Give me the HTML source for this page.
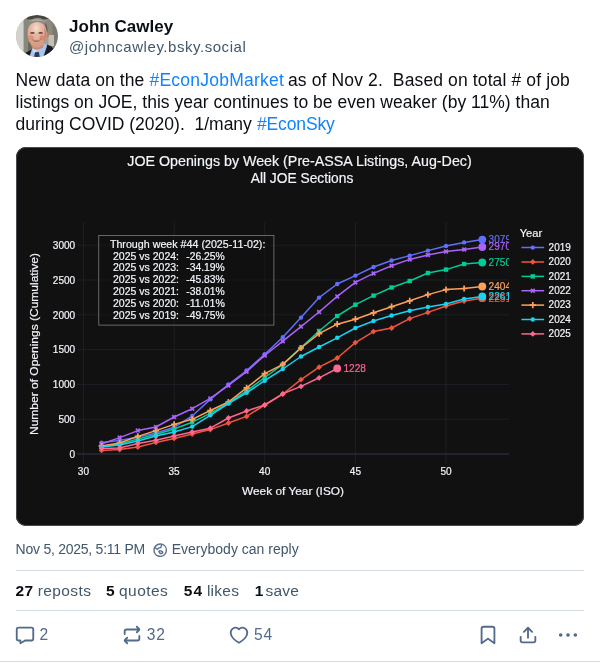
<!DOCTYPE html>
<html>
<head>
<meta charset="utf-8">
<title>Post</title>
<style>
html,body{margin:0;padding:0;background:#fff;}
body{width:600px;height:665px;overflow:hidden;position:relative;font-family:"Liberation Sans",sans-serif;color:#0b0f14;}
.abs{position:absolute;white-space:pre;}
.avatar{position:absolute;left:16px;top:15px;width:42px;height:42px;border-radius:50%;overflow:hidden;background:#b9b7ae;}
.name{left:69px;top:16px;font-size:17px;font-weight:bold;line-height:22px;color:#0b0f14;letter-spacing:0.03px;}
.handle{left:69px;top:37px;font-size:15px;line-height:20px;color:#42576c;letter-spacing:0.545px;}
.txt{font-size:17.5px;line-height:22px;color:#0b0f14;}
.lnk{color:#1083fe;}
.chart{position:absolute;left:16px;top:147px;width:568px;height:378.7px;border-radius:10px;background:#111111;overflow:hidden;}
.chart::after{content:"";position:absolute;left:0;top:0;right:0;bottom:0;border-radius:10px;border:1px solid rgba(190,200,215,0.32);box-sizing:border-box;}
.meta{top:540px;font-size:14px;line-height:18px;color:#42576c;}
.hr{position:absolute;left:16px;width:568px;height:1px;background:#d4dbe2;}
.stats{top:581px;font-size:15.5px;line-height:20px;color:#42576c;}
.sb{color:#0b0f14;font-weight:bold;}
.cnt{top:625px;font-size:15.6px;line-height:20px;color:#526a8e;}
.ico{position:absolute;width:22px;height:22px;fill:#526a8e;}
</style>
</head>
<body>
<div id="wrap" style="position:absolute;left:0;top:0;width:600px;height:665px;will-change:transform;">
<div class="avatar"><svg width="42" height="42" viewBox="0 0 42 42" style="display:block">
<defs><filter id="bl" x="-10%" y="-10%" width="120%" height="120%"><feGaussianBlur stdDeviation="0.7"/></filter>
<radialGradient id="fg" cx="0.45" cy="0.24" r="0.62"><stop offset="0" stop-color="#f5dccf"/><stop offset="0.45" stop-color="#e8b8a2"/><stop offset="1" stop-color="#d89c84"/></radialGradient>
<clipPath id="ac"><circle cx="21" cy="21" r="21"/></clipPath></defs>
<g clip-path="url(#ac)"><g filter="url(#bl)">
<rect x="-3" y="-3" width="48" height="48" fill="#a3a194"/>
<rect x="-3" y="-3" width="11" height="48" fill="#d3d3cd"/>
<rect x="7.6" y="-3" width="5.6" height="48" fill="#8a887c"/>
<rect x="11" y="-3" width="34" height="7.5" fill="#45453e"/>
<rect x="30" y="4" width="15" height="17" fill="#8c8a7d"/>
<rect x="36.5" y="5" width="9" height="30" fill="#7b796e"/>
<rect x="32.5" y="20" width="5.5" height="11" fill="#c2c0b4"/>
<rect x="12" y="27" width="6" height="10" fill="#6c6a5e"/>
<path d="M8 43L10 37.5L16.5 34L21 40L30.5 29.5L35 31L40 36.5L43 46L5 46Z" fill="#161c29"/>
<path d="M15.5 35.5L17 31L30.5 28.8L31 31L27 43L13 43Z" fill="#a9c6ea"/>
<path d="M16.5 33.5L21 36L18 38.5Z" fill="#d4e2f4"/>
<path d="M19 37.2L22.8 37L24 43L17.8 43Z" fill="#2a3a5c"/>
<path d="M10.8 17C10 6 17 2.6 21.5 2.8C28 2.8 32.8 8 31.4 19L29.8 12C27 7 16 6.5 12.6 11.5Z" fill="#8b8886"/>
<path d="M14 6.6C17 3.8 25 3.4 28.5 6.8C24 5.6 18 5.6 14 6.6Z" fill="#b0adaa"/>
<path d="M29 7.5C31.8 10.5 31.8 15 31.2 19.5L29.4 13.5Z" fill="#605d5a"/>
<ellipse cx="31.4" cy="19.8" rx="1.5" ry="2.8" fill="#bf806c"/>
<path d="M11.6 18C11.4 3.4 30.8 3.4 30.8 18C31 25 27 33 21 33.2C15 33 11.8 25 11.6 18Z" fill="url(#fg)"/>
<path d="M28.2 12C30.6 16 30.6 24 27.6 28.5C29 23 29 17 28.2 12Z" fill="#b97c68"/>
<ellipse cx="15" cy="22.8" rx="2.6" ry="2.6" fill="#dc927c"/>
<ellipse cx="26" cy="22.8" rx="2.4" ry="2.6" fill="#d58872"/>
<ellipse cx="20.6" cy="20.6" rx="1.8" ry="2.6" fill="#e9b39c"/>
<ellipse cx="16.4" cy="17.9" rx="2.3" ry="0.85" fill="#5e423c"/>
<ellipse cx="24.6" cy="17.9" rx="2.3" ry="0.85" fill="#5e423c"/>
<path d="M16 24.4Q20.4 29.4 25.2 24.4Q20.4 25.8 16 24.4Z" fill="#8a4a42"/>
<path d="M17.4 25Q20.4 26.2 24 25L23.4 25.8Q20.4 26.9 18 25.8Z" fill="#e2c4ba"/>
<path d="M15 29.8Q21 35.8 27.6 29.2L27 32.8Q21 36.2 16.3 33.2Z" fill="#c48c76"/>
</g></g></svg></div>
<div class="abs name" id="name">John Cawley</div>
<div class="abs handle" id="handle">@johncawley.bsky.social</div>

<div class="abs txt" id="l1a" style="top:69px;left:15.5px;letter-spacing:0.1px">New data on the</div>
<div class="abs txt lnk" id="l1b" style="top:69px;left:149.5px;letter-spacing:0.231px">#EconJobMarket</div>
<div class="abs txt" id="l1c" style="top:69px;left:288px;letter-spacing:0.125px">as of Nov 2.  Based on total # of job</div>
<div class="abs txt" id="l2" style="top:91px;left:15.5px;letter-spacing:0.022px">listings on JOE, this year continues to be even weaker (by 11%) than</div>
<div class="abs txt" id="l3a" style="top:113px;left:15.5px;">during COVID (2020).  1/many</div>
<div class="abs txt lnk" id="l3b" style="top:113px;left:257px;letter-spacing:-0.143px">#EconSky</div>

<div class="chart" id="chart"><svg width="568" height="379" viewBox="0 0 568 379" font-family="Liberation Sans, sans-serif" style="display:block">
<rect width="568" height="379" fill="#111111"/>
<path d="M67.4 75V317 M158.1 75V317 M248.7 75V317 M339.4 75V317 M430.0 75V317 M61 272.2H493 M61 237.4H493 M61 202.6H493 M61 167.8H493 M61 133.0H493 M61 98.2H493" stroke="#2a2f3c" stroke-opacity="0.62" stroke-width="0.75" fill="none"/>
<path d="M61 307H493" stroke="#2c3040" stroke-opacity="0.85" stroke-width="1.3" fill="none"/>
<clipPath id="pc"><rect x="61" y="75" width="432" height="242"/></clipPath>
<g clip-path="url(#pc)">
<polyline points="85.5,295.6 103.7,293.5 121.8,290.0 139.9,286.0 158.1,280.3 176.2,269.0 194.3,252.4 212.4,237.5 230.6,223.5 248.7,207.3 266.8,190.3 285.0,170.6 303.1,150.6 321.2,137.0 339.4,128.6 357.5,120.0 375.6,113.5 393.7,108.6 411.9,103.6 430.0,99.0 448.1,95.4 466.3,92.6" fill="none" stroke="#636efa" stroke-width="1.5" stroke-linejoin="round"/>
<circle cx="85.5" cy="295.6" r="2.2" fill="#636efa"/>
<circle cx="103.7" cy="293.5" r="2.2" fill="#636efa"/>
<circle cx="121.8" cy="290.0" r="2.2" fill="#636efa"/>
<circle cx="139.9" cy="286.0" r="2.2" fill="#636efa"/>
<circle cx="158.1" cy="280.3" r="2.2" fill="#636efa"/>
<circle cx="176.2" cy="269.0" r="2.2" fill="#636efa"/>
<circle cx="194.3" cy="252.4" r="2.2" fill="#636efa"/>
<circle cx="212.4" cy="237.5" r="2.2" fill="#636efa"/>
<circle cx="230.6" cy="223.5" r="2.2" fill="#636efa"/>
<circle cx="248.7" cy="207.3" r="2.2" fill="#636efa"/>
<circle cx="266.8" cy="190.3" r="2.2" fill="#636efa"/>
<circle cx="285.0" cy="170.6" r="2.2" fill="#636efa"/>
<circle cx="303.1" cy="150.6" r="2.2" fill="#636efa"/>
<circle cx="321.2" cy="137.0" r="2.2" fill="#636efa"/>
<circle cx="339.4" cy="128.6" r="2.2" fill="#636efa"/>
<circle cx="357.5" cy="120.0" r="2.2" fill="#636efa"/>
<circle cx="375.6" cy="113.5" r="2.2" fill="#636efa"/>
<circle cx="393.7" cy="108.6" r="2.2" fill="#636efa"/>
<circle cx="411.9" cy="103.6" r="2.2" fill="#636efa"/>
<circle cx="430.0" cy="99.0" r="2.2" fill="#636efa"/>
<circle cx="448.1" cy="95.4" r="2.2" fill="#636efa"/>
<circle cx="466.3" cy="92.6" r="2.2" fill="#636efa"/>
<polyline points="85.5,303.4 103.7,302.6 121.8,300.0 139.9,295.4 158.1,291.4 176.2,287.0 194.3,282.6 212.4,276.0 230.6,269.4 248.7,258.0 266.8,247.0 285.0,232.6 303.1,220.2 321.2,211.0 339.4,195.6 357.5,184.6 375.6,181.0 393.7,171.6 411.9,165.4 430.0,159.0 448.1,154.0 466.3,151.2" fill="none" stroke="#ef553b" stroke-width="1.5" stroke-linejoin="round"/>
<path d="M85.5 300.5L88.4 303.4L85.5 306.3L82.7 303.4Z" fill="#ef553b"/>
<path d="M103.7 299.7L106.5 302.6L103.7 305.5L100.8 302.6Z" fill="#ef553b"/>
<path d="M121.8 297.1L124.7 300.0L121.8 302.9L118.9 300.0Z" fill="#ef553b"/>
<path d="M139.9 292.5L142.8 295.4L139.9 298.3L137.1 295.4Z" fill="#ef553b"/>
<path d="M158.1 288.5L160.9 291.4L158.1 294.3L155.2 291.4Z" fill="#ef553b"/>
<path d="M176.2 284.1L179.0 287.0L176.2 289.9L173.3 287.0Z" fill="#ef553b"/>
<path d="M194.3 279.7L197.2 282.6L194.3 285.5L191.4 282.6Z" fill="#ef553b"/>
<path d="M212.4 273.1L215.3 276.0L212.4 278.9L209.6 276.0Z" fill="#ef553b"/>
<path d="M230.6 266.5L233.4 269.4L230.6 272.3L227.7 269.4Z" fill="#ef553b"/>
<path d="M248.7 255.1L251.6 258.0L248.7 260.9L245.8 258.0Z" fill="#ef553b"/>
<path d="M266.8 244.1L269.7 247.0L266.8 249.9L264.0 247.0Z" fill="#ef553b"/>
<path d="M285.0 229.7L287.8 232.6L285.0 235.5L282.1 232.6Z" fill="#ef553b"/>
<path d="M303.1 217.3L306.0 220.2L303.1 223.1L300.2 220.2Z" fill="#ef553b"/>
<path d="M321.2 208.1L324.1 211.0L321.2 213.9L318.4 211.0Z" fill="#ef553b"/>
<path d="M339.4 192.7L342.2 195.6L339.4 198.5L336.5 195.6Z" fill="#ef553b"/>
<path d="M357.5 181.7L360.3 184.6L357.5 187.5L354.6 184.6Z" fill="#ef553b"/>
<path d="M375.6 178.1L378.5 181.0L375.6 183.9L372.8 181.0Z" fill="#ef553b"/>
<path d="M393.7 168.7L396.6 171.6L393.7 174.5L390.9 171.6Z" fill="#ef553b"/>
<path d="M411.9 162.5L414.7 165.4L411.9 168.3L409.0 165.4Z" fill="#ef553b"/>
<path d="M430.0 156.1L432.9 159.0L430.0 161.9L427.1 159.0Z" fill="#ef553b"/>
<path d="M448.1 151.1L451.0 154.0L448.1 156.9L445.3 154.0Z" fill="#ef553b"/>
<path d="M466.3 148.3L469.1 151.2L466.3 154.1L463.4 151.2Z" fill="#ef553b"/>
<polyline points="85.5,299.6 103.7,297.0 121.8,292.0 139.9,287.5 158.1,282.0 176.2,275.2 194.3,266.3 212.4,256.0 230.6,244.0 248.7,230.5 266.8,217.4 285.0,200.6 303.1,184.0 321.2,169.0 339.4,157.7 357.5,148.6 375.6,140.5 393.7,134.0 411.9,126.0 430.0,122.6 448.1,117.0 466.3,115.5" fill="none" stroke="#00cc96" stroke-width="1.5" stroke-linejoin="round"/>
<rect x="83.3" y="297.4" width="4.4" height="4.4" fill="#00cc96"/>
<rect x="101.5" y="294.8" width="4.4" height="4.4" fill="#00cc96"/>
<rect x="119.6" y="289.8" width="4.4" height="4.4" fill="#00cc96"/>
<rect x="137.7" y="285.3" width="4.4" height="4.4" fill="#00cc96"/>
<rect x="155.9" y="279.8" width="4.4" height="4.4" fill="#00cc96"/>
<rect x="174.0" y="273.0" width="4.4" height="4.4" fill="#00cc96"/>
<rect x="192.1" y="264.1" width="4.4" height="4.4" fill="#00cc96"/>
<rect x="210.2" y="253.8" width="4.4" height="4.4" fill="#00cc96"/>
<rect x="228.4" y="241.8" width="4.4" height="4.4" fill="#00cc96"/>
<rect x="246.5" y="228.3" width="4.4" height="4.4" fill="#00cc96"/>
<rect x="264.6" y="215.2" width="4.4" height="4.4" fill="#00cc96"/>
<rect x="282.8" y="198.4" width="4.4" height="4.4" fill="#00cc96"/>
<rect x="300.9" y="181.8" width="4.4" height="4.4" fill="#00cc96"/>
<rect x="319.0" y="166.8" width="4.4" height="4.4" fill="#00cc96"/>
<rect x="337.2" y="155.5" width="4.4" height="4.4" fill="#00cc96"/>
<rect x="355.3" y="146.4" width="4.4" height="4.4" fill="#00cc96"/>
<rect x="373.4" y="138.3" width="4.4" height="4.4" fill="#00cc96"/>
<rect x="391.5" y="131.8" width="4.4" height="4.4" fill="#00cc96"/>
<rect x="409.7" y="123.8" width="4.4" height="4.4" fill="#00cc96"/>
<rect x="427.8" y="120.4" width="4.4" height="4.4" fill="#00cc96"/>
<rect x="445.9" y="114.8" width="4.4" height="4.4" fill="#00cc96"/>
<rect x="464.1" y="113.3" width="4.4" height="4.4" fill="#00cc96"/>
<polyline points="85.5,297.0 103.7,290.6 121.8,283.6 139.9,280.0 158.1,270.0 176.2,261.7 194.3,251.4 212.4,238.4 230.6,224.7 248.7,208.5 266.8,194.2 285.0,179.6 303.1,165.0 321.2,149.4 339.4,135.4 357.5,126.4 375.6,118.7 393.7,112.4 411.9,108.0 430.0,104.6 448.1,102.4 466.3,100.0" fill="none" stroke="#ab63fa" stroke-width="1.5" stroke-linejoin="round"/>
<path d="M83.7 295.1L87.4 298.9M83.7 298.9L87.4 295.1" stroke="#ab63fa" stroke-width="1.7" fill="none"/>
<path d="M101.8 288.7L105.5 292.5M101.8 292.5L105.5 288.7" stroke="#ab63fa" stroke-width="1.7" fill="none"/>
<path d="M119.9 281.7L123.7 285.5M119.9 285.5L123.7 281.7" stroke="#ab63fa" stroke-width="1.7" fill="none"/>
<path d="M138.1 278.1L141.8 281.9M138.1 281.9L141.8 278.1" stroke="#ab63fa" stroke-width="1.7" fill="none"/>
<path d="M156.2 268.1L159.9 271.9M156.2 271.9L159.9 268.1" stroke="#ab63fa" stroke-width="1.7" fill="none"/>
<path d="M174.3 259.8L178.1 263.6M174.3 263.6L178.1 259.8" stroke="#ab63fa" stroke-width="1.7" fill="none"/>
<path d="M192.4 249.5L196.2 253.3M192.4 253.3L196.2 249.5" stroke="#ab63fa" stroke-width="1.7" fill="none"/>
<path d="M210.6 236.5L214.3 240.3M210.6 240.3L214.3 236.5" stroke="#ab63fa" stroke-width="1.7" fill="none"/>
<path d="M228.7 222.8L232.4 226.6M228.7 226.6L232.4 222.8" stroke="#ab63fa" stroke-width="1.7" fill="none"/>
<path d="M246.8 206.6L250.6 210.4M246.8 210.4L250.6 206.6" stroke="#ab63fa" stroke-width="1.7" fill="none"/>
<path d="M265.0 192.3L268.7 196.1M265.0 196.1L268.7 192.3" stroke="#ab63fa" stroke-width="1.7" fill="none"/>
<path d="M283.1 177.7L286.8 181.5M283.1 181.5L286.8 177.7" stroke="#ab63fa" stroke-width="1.7" fill="none"/>
<path d="M301.2 163.1L305.0 166.9M301.2 166.9L305.0 163.1" stroke="#ab63fa" stroke-width="1.7" fill="none"/>
<path d="M319.4 147.5L323.1 151.3M319.4 151.3L323.1 147.5" stroke="#ab63fa" stroke-width="1.7" fill="none"/>
<path d="M337.5 133.5L341.2 137.3M337.5 137.3L341.2 133.5" stroke="#ab63fa" stroke-width="1.7" fill="none"/>
<path d="M355.6 124.5L359.4 128.3M355.6 128.3L359.4 124.5" stroke="#ab63fa" stroke-width="1.7" fill="none"/>
<path d="M373.7 116.8L377.5 120.6M373.7 120.6L377.5 116.8" stroke="#ab63fa" stroke-width="1.7" fill="none"/>
<path d="M391.9 110.5L395.6 114.3M391.9 114.3L395.6 110.5" stroke="#ab63fa" stroke-width="1.7" fill="none"/>
<path d="M410.0 106.1L413.7 109.9M410.0 109.9L413.7 106.1" stroke="#ab63fa" stroke-width="1.7" fill="none"/>
<path d="M428.1 102.7L431.9 106.5M428.1 106.5L431.9 102.7" stroke="#ab63fa" stroke-width="1.7" fill="none"/>
<path d="M446.3 100.5L450.0 104.3M446.3 104.3L450.0 100.5" stroke="#ab63fa" stroke-width="1.7" fill="none"/>
<path d="M464.4 98.1L468.1 101.9M464.4 101.9L468.1 98.1" stroke="#ab63fa" stroke-width="1.7" fill="none"/>
<polyline points="85.5,299.0 103.7,296.0 121.8,289.4 139.9,283.6 158.1,277.4 176.2,272.3 194.3,263.5 212.4,255.0 230.6,240.8 248.7,226.6 266.8,217.4 285.0,201.0 303.1,186.6 321.2,177.2 339.4,172.2 357.5,165.8 375.6,159.7 393.7,153.8 411.9,147.6 430.0,142.6 448.1,141.5 466.3,139.5" fill="none" stroke="#ffa15a" stroke-width="1.5" stroke-linejoin="round"/>
<path d="M82.5 299.0L88.6 299.0M85.5 295.9L85.5 302.1" stroke="#ffa15a" stroke-width="1.7" fill="none"/>
<path d="M100.6 296.0L106.7 296.0M103.7 292.9L103.7 299.1" stroke="#ffa15a" stroke-width="1.7" fill="none"/>
<path d="M118.7 289.4L124.9 289.4M121.8 286.3L121.8 292.5" stroke="#ffa15a" stroke-width="1.7" fill="none"/>
<path d="M136.8 283.6L143.0 283.6M139.9 280.5L139.9 286.7" stroke="#ffa15a" stroke-width="1.7" fill="none"/>
<path d="M155.0 277.4L161.1 277.4M158.1 274.3L158.1 280.5" stroke="#ffa15a" stroke-width="1.7" fill="none"/>
<path d="M173.1 272.3L179.3 272.3M176.2 269.2L176.2 275.4" stroke="#ffa15a" stroke-width="1.7" fill="none"/>
<path d="M191.2 263.5L197.4 263.5M194.3 260.4L194.3 266.6" stroke="#ffa15a" stroke-width="1.7" fill="none"/>
<path d="M209.4 255.0L215.5 255.0M212.4 251.9L212.4 258.1" stroke="#ffa15a" stroke-width="1.7" fill="none"/>
<path d="M227.5 240.8L233.7 240.8M230.6 237.7L230.6 243.9" stroke="#ffa15a" stroke-width="1.7" fill="none"/>
<path d="M245.6 226.6L251.8 226.6M248.7 223.5L248.7 229.7" stroke="#ffa15a" stroke-width="1.7" fill="none"/>
<path d="M263.8 217.4L269.9 217.4M266.8 214.3L266.8 220.5" stroke="#ffa15a" stroke-width="1.7" fill="none"/>
<path d="M281.9 201.0L288.0 201.0M285.0 197.9L285.0 204.1" stroke="#ffa15a" stroke-width="1.7" fill="none"/>
<path d="M300.0 186.6L306.2 186.6M303.1 183.5L303.1 189.7" stroke="#ffa15a" stroke-width="1.7" fill="none"/>
<path d="M318.1 177.2L324.3 177.2M321.2 174.1L321.2 180.3" stroke="#ffa15a" stroke-width="1.7" fill="none"/>
<path d="M336.3 172.2L342.4 172.2M339.4 169.1L339.4 175.3" stroke="#ffa15a" stroke-width="1.7" fill="none"/>
<path d="M354.4 165.8L360.6 165.8M357.5 162.7L357.5 168.9" stroke="#ffa15a" stroke-width="1.7" fill="none"/>
<path d="M372.5 159.7L378.7 159.7M375.6 156.6L375.6 162.8" stroke="#ffa15a" stroke-width="1.7" fill="none"/>
<path d="M390.7 153.8L396.8 153.8M393.7 150.7L393.7 156.9" stroke="#ffa15a" stroke-width="1.7" fill="none"/>
<path d="M408.8 147.6L414.9 147.6M411.9 144.5L411.9 150.7" stroke="#ffa15a" stroke-width="1.7" fill="none"/>
<path d="M426.9 142.6L433.1 142.6M430.0 139.5L430.0 145.7" stroke="#ffa15a" stroke-width="1.7" fill="none"/>
<path d="M445.1 141.5L451.2 141.5M448.1 138.4L448.1 144.6" stroke="#ffa15a" stroke-width="1.7" fill="none"/>
<path d="M463.2 139.5L469.3 139.5M466.3 136.4L466.3 142.6" stroke="#ffa15a" stroke-width="1.7" fill="none"/>
<polyline points="85.5,300.0 103.7,298.0 121.8,294.0 139.9,289.0 158.1,285.0 176.2,279.6 194.3,268.3 212.4,256.5 230.6,245.8 248.7,233.7 266.8,222.0 285.0,209.5 303.1,200.0 321.2,190.8 339.4,181.0 357.5,174.0 375.6,168.5 393.7,163.7 411.9,160.0 430.0,157.0 448.1,152.0 466.3,149.4" fill="none" stroke="#19d3f3" stroke-width="1.5" stroke-linejoin="round"/>
<circle cx="85.5" cy="300.0" r="2.2" fill="#19d3f3"/>
<circle cx="103.7" cy="298.0" r="2.2" fill="#19d3f3"/>
<circle cx="121.8" cy="294.0" r="2.2" fill="#19d3f3"/>
<circle cx="139.9" cy="289.0" r="2.2" fill="#19d3f3"/>
<circle cx="158.1" cy="285.0" r="2.2" fill="#19d3f3"/>
<circle cx="176.2" cy="279.6" r="2.2" fill="#19d3f3"/>
<circle cx="194.3" cy="268.3" r="2.2" fill="#19d3f3"/>
<circle cx="212.4" cy="256.5" r="2.2" fill="#19d3f3"/>
<circle cx="230.6" cy="245.8" r="2.2" fill="#19d3f3"/>
<circle cx="248.7" cy="233.7" r="2.2" fill="#19d3f3"/>
<circle cx="266.8" cy="222.0" r="2.2" fill="#19d3f3"/>
<circle cx="285.0" cy="209.5" r="2.2" fill="#19d3f3"/>
<circle cx="303.1" cy="200.0" r="2.2" fill="#19d3f3"/>
<circle cx="321.2" cy="190.8" r="2.2" fill="#19d3f3"/>
<circle cx="339.4" cy="181.0" r="2.2" fill="#19d3f3"/>
<circle cx="357.5" cy="174.0" r="2.2" fill="#19d3f3"/>
<circle cx="375.6" cy="168.5" r="2.2" fill="#19d3f3"/>
<circle cx="393.7" cy="163.7" r="2.2" fill="#19d3f3"/>
<circle cx="411.9" cy="160.0" r="2.2" fill="#19d3f3"/>
<circle cx="430.0" cy="157.0" r="2.2" fill="#19d3f3"/>
<circle cx="448.1" cy="152.0" r="2.2" fill="#19d3f3"/>
<circle cx="466.3" cy="149.4" r="2.2" fill="#19d3f3"/>
<polyline points="85.5,301.4 103.7,301.0 121.8,296.6 139.9,293.2 158.1,289.0 176.2,285.0 194.3,281.2 212.4,271.0 230.6,264.0 248.7,258.0 266.8,246.8 285.0,239.4 303.1,230.8 321.2,221.5" fill="none" stroke="#ff6692" stroke-width="1.5" stroke-linejoin="round"/>
<path d="M85.5 298.5L88.4 301.4L85.5 304.3L82.7 301.4Z" fill="#ff6692"/>
<path d="M103.7 298.1L106.5 301.0L103.7 303.9L100.8 301.0Z" fill="#ff6692"/>
<path d="M121.8 293.7L124.7 296.6L121.8 299.5L118.9 296.6Z" fill="#ff6692"/>
<path d="M139.9 290.3L142.8 293.2L139.9 296.1L137.1 293.2Z" fill="#ff6692"/>
<path d="M158.1 286.1L160.9 289.0L158.1 291.9L155.2 289.0Z" fill="#ff6692"/>
<path d="M176.2 282.1L179.0 285.0L176.2 287.9L173.3 285.0Z" fill="#ff6692"/>
<path d="M194.3 278.3L197.2 281.2L194.3 284.1L191.4 281.2Z" fill="#ff6692"/>
<path d="M212.4 268.1L215.3 271.0L212.4 273.9L209.6 271.0Z" fill="#ff6692"/>
<path d="M230.6 261.1L233.4 264.0L230.6 266.9L227.7 264.0Z" fill="#ff6692"/>
<path d="M248.7 255.1L251.6 258.0L248.7 260.9L245.8 258.0Z" fill="#ff6692"/>
<path d="M266.8 243.9L269.7 246.8L266.8 249.7L264.0 246.8Z" fill="#ff6692"/>
<path d="M285.0 236.5L287.8 239.4L285.0 242.3L282.1 239.4Z" fill="#ff6692"/>
<path d="M303.1 227.9L306.0 230.8L303.1 233.7L300.2 230.8Z" fill="#ff6692"/>
<path d="M321.2 218.6L324.1 221.5L321.2 224.4L318.4 221.5Z" fill="#ff6692"/>
<circle cx="466.3" cy="92.6" r="3.9" fill="#636efa"/>
<circle cx="466.3" cy="151.2" r="3.9" fill="#ef553b"/>
<circle cx="466.3" cy="115.5" r="3.9" fill="#00cc96"/>
<circle cx="466.3" cy="100.0" r="3.9" fill="#ab63fa"/>
<circle cx="466.3" cy="139.5" r="3.9" fill="#ffa15a"/>
<circle cx="466.3" cy="149.4" r="3.9" fill="#19d3f3"/>
<circle cx="321.2" cy="221.5" r="3.9" fill="#ff6692"/>
<text x="472.6" y="154.5" font-size="10.0" fill="#ef553b" stroke="#ef553b" stroke-width="0.18" text-anchor="start" textLength="22.4" lengthAdjust="spacingAndGlyphs" >2251</text>
<text x="472.6" y="95.9" font-size="10.0" fill="#636efa" stroke="#636efa" stroke-width="0.18" text-anchor="start" textLength="22.4" lengthAdjust="spacingAndGlyphs" >3079</text>
<text x="472.6" y="118.8" font-size="10.0" fill="#00cc96" stroke="#00cc96" stroke-width="0.18" text-anchor="start" textLength="22.4" lengthAdjust="spacingAndGlyphs" >2750</text>
<text x="472.6" y="103.3" font-size="10.0" fill="#ab63fa" stroke="#ab63fa" stroke-width="0.18" text-anchor="start" textLength="22.4" lengthAdjust="spacingAndGlyphs" >2970</text>
<text x="472.6" y="142.8" font-size="10.0" fill="#ffa15a" stroke="#ffa15a" stroke-width="0.18" text-anchor="start" textLength="22.4" lengthAdjust="spacingAndGlyphs" >2404</text>
<text x="472.6" y="152.7" font-size="10.0" fill="#19d3f3" stroke="#19d3f3" stroke-width="0.18" text-anchor="start" textLength="22.4" lengthAdjust="spacingAndGlyphs" >2261</text>
<text x="327.5" y="224.8" font-size="10.0" fill="#ff6692" stroke="#ff6692" stroke-width="0.18" text-anchor="start" textLength="22.4" lengthAdjust="spacingAndGlyphs" >1228</text>
</g>
<rect x="82.8" y="88.4" width="175.1" height="89.7" fill="#111111" fill-opacity="0.55" stroke="#8c8c8c" stroke-width="0.7"/>
<text x="93.9" y="100.8" font-size="10.0" fill="#f2f5fa" stroke="#f2f5fa" stroke-width="0.18" text-anchor="start" textLength="155.5" lengthAdjust="spacingAndGlyphs" >Through week #44 (2025-11-02):</text>
<text x="97.0" y="112.5" font-size="10.0" fill="#f2f5fa" stroke="#f2f5fa" stroke-width="0.18" text-anchor="start" textLength="66.0" lengthAdjust="spacingAndGlyphs" >2025 vs 2024:</text>
<text x="170.2" y="112.5" font-size="10.0" fill="#f2f5fa" stroke="#f2f5fa" stroke-width="0.18" text-anchor="start" textLength="38.6" lengthAdjust="spacingAndGlyphs" >-26.25%</text>
<text x="97.0" y="124.3" font-size="10.0" fill="#f2f5fa" stroke="#f2f5fa" stroke-width="0.18" text-anchor="start" textLength="66.0" lengthAdjust="spacingAndGlyphs" >2025 vs 2023:</text>
<text x="170.2" y="124.3" font-size="10.0" fill="#f2f5fa" stroke="#f2f5fa" stroke-width="0.18" text-anchor="start" textLength="38.6" lengthAdjust="spacingAndGlyphs" >-34.19%</text>
<text x="97.0" y="136.1" font-size="10.0" fill="#f2f5fa" stroke="#f2f5fa" stroke-width="0.18" text-anchor="start" textLength="66.0" lengthAdjust="spacingAndGlyphs" >2025 vs 2022:</text>
<text x="170.2" y="136.1" font-size="10.0" fill="#f2f5fa" stroke="#f2f5fa" stroke-width="0.18" text-anchor="start" textLength="38.6" lengthAdjust="spacingAndGlyphs" >-45.83%</text>
<text x="97.0" y="147.9" font-size="10.0" fill="#f2f5fa" stroke="#f2f5fa" stroke-width="0.18" text-anchor="start" textLength="66.0" lengthAdjust="spacingAndGlyphs" >2025 vs 2021:</text>
<text x="170.2" y="147.9" font-size="10.0" fill="#f2f5fa" stroke="#f2f5fa" stroke-width="0.18" text-anchor="start" textLength="38.6" lengthAdjust="spacingAndGlyphs" >-38.01%</text>
<text x="97.0" y="159.7" font-size="10.0" fill="#f2f5fa" stroke="#f2f5fa" stroke-width="0.18" text-anchor="start" textLength="66.0" lengthAdjust="spacingAndGlyphs" >2025 vs 2020:</text>
<text x="170.2" y="159.7" font-size="10.0" fill="#f2f5fa" stroke="#f2f5fa" stroke-width="0.18" text-anchor="start" textLength="38.6" lengthAdjust="spacingAndGlyphs" >-11.01%</text>
<text x="97.0" y="171.5" font-size="10.0" fill="#f2f5fa" stroke="#f2f5fa" stroke-width="0.18" text-anchor="start" textLength="66.0" lengthAdjust="spacingAndGlyphs" >2025 vs 2019:</text>
<text x="170.2" y="171.5" font-size="10.0" fill="#f2f5fa" stroke="#f2f5fa" stroke-width="0.18" text-anchor="start" textLength="38.6" lengthAdjust="spacingAndGlyphs" >-49.75%</text>
<text x="283.5" y="18.7" font-size="14.0" fill="#f2f5fa" stroke="#f2f5fa" stroke-width="0.18" text-anchor="middle" textLength="344.4" lengthAdjust="spacingAndGlyphs" >JOE Openings by Week (Pre-ASSA Listings, Aug-Dec)</text>
<text x="286.0" y="35.7" font-size="14.0" fill="#f2f5fa" stroke="#f2f5fa" stroke-width="0.18" text-anchor="middle" textLength="102.6" lengthAdjust="spacingAndGlyphs" >All JOE Sections</text>
<text x="59.2" y="310.7" font-size="10.0" fill="#f2f5fa" stroke="#f2f5fa" stroke-width="0.18" text-anchor="end" textLength="5.6" lengthAdjust="spacingAndGlyphs" >0</text>
<text x="59.2" y="275.9" font-size="10.0" fill="#f2f5fa" stroke="#f2f5fa" stroke-width="0.18" text-anchor="end" textLength="16.8" lengthAdjust="spacingAndGlyphs" >500</text>
<text x="59.2" y="241.1" font-size="10.0" fill="#f2f5fa" stroke="#f2f5fa" stroke-width="0.18" text-anchor="end" textLength="22.4" lengthAdjust="spacingAndGlyphs" >1000</text>
<text x="59.2" y="206.3" font-size="10.0" fill="#f2f5fa" stroke="#f2f5fa" stroke-width="0.18" text-anchor="end" textLength="22.4" lengthAdjust="spacingAndGlyphs" >1500</text>
<text x="59.2" y="171.5" font-size="10.0" fill="#f2f5fa" stroke="#f2f5fa" stroke-width="0.18" text-anchor="end" textLength="22.4" lengthAdjust="spacingAndGlyphs" >2000</text>
<text x="59.2" y="136.7" font-size="10.0" fill="#f2f5fa" stroke="#f2f5fa" stroke-width="0.18" text-anchor="end" textLength="22.4" lengthAdjust="spacingAndGlyphs" >2500</text>
<text x="59.2" y="101.9" font-size="10.0" fill="#f2f5fa" stroke="#f2f5fa" stroke-width="0.18" text-anchor="end" textLength="22.4" lengthAdjust="spacingAndGlyphs" >3000</text>
<text x="67.4" y="328.2" font-size="10.0" fill="#f2f5fa" stroke="#f2f5fa" stroke-width="0.18" text-anchor="middle" textLength="11.2" lengthAdjust="spacingAndGlyphs" >30</text>
<text x="158.1" y="328.2" font-size="10.0" fill="#f2f5fa" stroke="#f2f5fa" stroke-width="0.18" text-anchor="middle" textLength="11.2" lengthAdjust="spacingAndGlyphs" >35</text>
<text x="248.7" y="328.2" font-size="10.0" fill="#f2f5fa" stroke="#f2f5fa" stroke-width="0.18" text-anchor="middle" textLength="11.2" lengthAdjust="spacingAndGlyphs" >40</text>
<text x="339.4" y="328.2" font-size="10.0" fill="#f2f5fa" stroke="#f2f5fa" stroke-width="0.18" text-anchor="middle" textLength="11.2" lengthAdjust="spacingAndGlyphs" >45</text>
<text x="430.0" y="328.2" font-size="10.0" fill="#f2f5fa" stroke="#f2f5fa" stroke-width="0.18" text-anchor="middle" textLength="11.2" lengthAdjust="spacingAndGlyphs" >50</text>
<text x="277.0" y="347.8" font-size="11.5" fill="#f2f5fa" stroke="#f2f5fa" stroke-width="0.18" text-anchor="middle" textLength="102.0" lengthAdjust="spacingAndGlyphs" >Week of Year (ISO)</text>
<g transform="translate(22.0 197.0) rotate(-90)"><text x="0.0" y="0.0" font-size="11.5" fill="#f2f5fa" stroke="#f2f5fa" stroke-width="0.18" text-anchor="middle" textLength="182.0" lengthAdjust="spacingAndGlyphs" >Number of Openings (Cumulative)</text></g>
<text x="503.7" y="89.5" font-size="10.8" fill="#f2f5fa" stroke="#f2f5fa" stroke-width="0.18" text-anchor="start" textLength="22.5" lengthAdjust="spacingAndGlyphs" >Year</text>
<path d="M505.4 100.6H528.1" stroke="#636efa" stroke-width="1.5"/>
<circle cx="516.8" cy="100.6" r="2.2" fill="#636efa"/>
<text x="532.6" y="103.9" font-size="10.0" fill="#f2f5fa" stroke="#f2f5fa" stroke-width="0.18" text-anchor="start" textLength="22.2" lengthAdjust="spacingAndGlyphs" >2019</text>
<path d="M505.4 115.0H528.1" stroke="#ef553b" stroke-width="1.5"/>
<path d="M516.8 112.1L519.7 115.0L516.8 117.8L513.9 115.0Z" fill="#ef553b"/>
<text x="532.6" y="118.3" font-size="10.0" fill="#f2f5fa" stroke="#f2f5fa" stroke-width="0.18" text-anchor="start" textLength="22.2" lengthAdjust="spacingAndGlyphs" >2020</text>
<path d="M505.4 129.4H528.1" stroke="#00cc96" stroke-width="1.5"/>
<rect x="514.6" y="127.2" width="4.4" height="4.4" fill="#00cc96"/>
<text x="532.6" y="132.7" font-size="10.0" fill="#f2f5fa" stroke="#f2f5fa" stroke-width="0.18" text-anchor="start" textLength="22.2" lengthAdjust="spacingAndGlyphs" >2021</text>
<path d="M505.4 143.7H528.1" stroke="#ab63fa" stroke-width="1.5"/>
<path d="M514.9 141.9L518.7 145.6M514.9 145.6L518.7 141.9" stroke="#ab63fa" stroke-width="1.7" fill="none"/>
<text x="532.6" y="147.0" font-size="10.0" fill="#f2f5fa" stroke="#f2f5fa" stroke-width="0.18" text-anchor="start" textLength="22.2" lengthAdjust="spacingAndGlyphs" >2022</text>
<path d="M505.4 158.1H528.1" stroke="#ffa15a" stroke-width="1.5"/>
<path d="M513.7 158.1L519.9 158.1M516.8 155.0L516.8 161.2" stroke="#ffa15a" stroke-width="1.7" fill="none"/>
<text x="532.6" y="161.4" font-size="10.0" fill="#f2f5fa" stroke="#f2f5fa" stroke-width="0.18" text-anchor="start" textLength="22.2" lengthAdjust="spacingAndGlyphs" >2023</text>
<path d="M505.4 172.5H528.1" stroke="#19d3f3" stroke-width="1.5"/>
<circle cx="516.8" cy="172.5" r="2.2" fill="#19d3f3"/>
<text x="532.6" y="175.8" font-size="10.0" fill="#f2f5fa" stroke="#f2f5fa" stroke-width="0.18" text-anchor="start" textLength="22.2" lengthAdjust="spacingAndGlyphs" >2024</text>
<path d="M505.4 186.9H528.1" stroke="#ff6692" stroke-width="1.5"/>
<path d="M516.8 184.0L519.7 186.9L516.8 189.7L513.9 186.9Z" fill="#ff6692"/>
<text x="532.6" y="190.2" font-size="10.0" fill="#f2f5fa" stroke="#f2f5fa" stroke-width="0.18" text-anchor="start" textLength="22.2" lengthAdjust="spacingAndGlyphs" >2025</text>
</svg></div>

<div class="abs meta" id="date" style="left:15.6px;letter-spacing:-0.25px">Nov 5, 2025, 5:11 PM</div>
<svg class="ico" id="globe" style="left:151.8px;top:541.7px;width:16.4px;height:16.4px;fill:#5a6f92" viewBox="0 0 24 24"><path fill-rule="evenodd" clip-rule="evenodd" d="M4.4 9.493C4.14 10.28 4 11.124 4 12a8 8 0 1 0 10.899-7.459l-.953 3.81a1 1 0 0 1-.726.727l-3.444.866-.772 1.533a1 1 0 0 1-1.493.35L4.4 9.493Zm.883-1.84L7.756 9.51l.44-.874a1 1 0 0 1 .649-.52l3.306-.832.807-3.227a7.993 7.993 0 0 0-7.676 3.597ZM2 12C2 6.477 6.477 2 12 2s10 4.477 10 10-4.477 10-10 10S2 17.523 2 12Zm8.43.162a1 1 0 0 1 .77-.29l1.89.121a1 1 0 0 1 .494.168l2.869 1.928a1 1 0 0 1 .336 1.277l-.973 1.946a1 1 0 0 1-.894.553h-2.92a1 1 0 0 1-.831-.445L9.225 14.5a1 1 0 0 1 .126-1.262l1.08-1.076Zm.915 1.913.177-.177 1.171.074 1.914 1.286-.303.607h-1.766l-1.193-1.79Z"/></svg>
<div class="abs meta" id="every" style="left:171.7px;letter-spacing:0.006px">Everybody can reply</div>

<div class="hr" style="top:570px"></div>
<div class="abs stats sb" id="s1b" style="left:15.5px;letter-spacing:0.5px">27</div>
<div class="abs stats" id="s1" style="left:37.8px;letter-spacing:0.375px">reposts</div>
<div class="abs stats sb" id="s2b" style="left:106px">5</div>
<div class="abs stats" id="s2" style="left:119px;letter-spacing:0.46px">quotes</div>
<div class="abs stats sb" id="s3b" style="left:183.7px;letter-spacing:1.3px">54</div>
<div class="abs stats" id="s3" style="left:206.9px;letter-spacing:0.275px">likes</div>
<div class="abs stats sb" id="s4b" style="left:254.8px">1</div>
<div class="abs stats" id="s4" style="left:265.6px;letter-spacing:0.167px">save</div>
<div class="hr" style="top:610px"></div>

<svg class="ico" id="i1" style="left:14.2px;top:624.2px" viewBox="0 0 24 24"><path fill-rule="evenodd" clip-rule="evenodd" d="M2.002 6a3 3 0 0 1 3-3h14a3 3 0 0 1 3 3v10a3 3 0 0 1-3 3H12.28l-4.762 2.858A1 1 0 0 1 6.002 21v-2h-1a3 3 0 0 1-3-3V6Zm3-1a1 1 0 0 0-1 1v10a1 1 0 0 0 1 1h2a1 1 0 0 1 1 1v1.234l3.486-2.092a1 1 0 0 1 .514-.142h7a1 1 0 0 0 1-1V6a1 1 0 0 0-1-1h-14Z"/></svg>
<div class="abs cnt" id="c1" style="left:39.5px">2</div>
<svg class="ico" id="i2" style="left:121px;top:624px" viewBox="0 0 24 24"><path d="M17.957 2.293a1 1 0 1 0-1.414 1.414L17.836 5H6a3 3 0 0 0-3 3v3a1 1 0 1 0 2 0V8a1 1 0 0 1 1-1h11.836l-1.293 1.293a1 1 0 0 0 1.414 1.414l2.47-2.47a1.75 1.75 0 0 0 0-2.474l-2.47-2.47ZM20 12a1 1 0 0 1 1 1v3a3 3 0 0 1-3 3H6.164l1.293 1.293a1 1 0 1 1-1.414 1.414l-2.47-2.47a1.75 1.75 0 0 1 0-2.474l2.47-2.47a1 1 0 0 1 1.414 1.414L6.164 17H18a1 1 0 0 0 1-1v-3a1 1 0 0 1 1-1Z"/></svg>
<div class="abs cnt" id="c2" style="left:146.7px;letter-spacing:1.0px">32</div>
<svg class="ico" id="i3" style="left:228px;top:624.4px" viewBox="0 0 24 24"><path fill-rule="evenodd" clip-rule="evenodd" d="M16.734 5.091c-1.238-.276-2.708.047-4.022 1.38a1 1 0 0 1-1.424 0C9.974 5.137 8.504 4.814 7.266 5.09c-1.263.282-2.379 1.206-2.92 2.556C3.33 10.18 4.252 14.84 12 19.348c7.747-4.508 8.67-9.168 7.654-11.7-.541-1.351-1.657-2.275-2.92-2.557Zm4.777 1.812c1.604 4-.494 9.69-9.022 14.47a1 1 0 0 1-.978 0C2.983 16.592.885 10.902 2.49 6.902c.779-1.942 2.414-3.334 4.342-3.764 1.697-.378 3.552.003 5.169 1.286 1.617-1.283 3.472-1.664 5.17-1.286 1.927.43 3.562 1.822 4.34 3.764Z"/></svg>
<div class="abs cnt" id="c3" style="left:253.9px;letter-spacing:1.0px">54</div>
<svg class="ico" id="i4" style="left:477px;top:624px" viewBox="0 0 24 24"><path fill-rule="evenodd" clip-rule="evenodd" d="M4 5a3 3 0 0 1 3-3h10a3 3 0 0 1 3 3v16a1 1 0 0 1-1.581.814L12 17.229l-6.419 4.585A1 1 0 0 1 4 21V5Zm3-1a1 1 0 0 0-1 1v14.057l5.419-3.87a1 1 0 0 1 1.162 0L18 19.056V5a1 1 0 0 0-1-1H7Z"/></svg>
<svg class="ico" id="i5" style="left:517px;top:624px" viewBox="0 0 24 24"><path d="M12.707 3.293a1 1 0 0 0-1.414 0l-4.5 4.5a1 1 0 0 0 1.414 1.414L11 6.414V15a1 1 0 1 0 2 0V6.414l2.793 2.793a1 1 0 0 0 1.414-1.414l-4.5-4.5ZM5 14a1 1 0 1 0-2 0v4a3 3 0 0 0 3 3h12a3 3 0 0 0 3-3v-4a1 1 0 1 0-2 0v4a1 1 0 0 1-1 1H6a1 1 0 0 1-1-1v-4Z"/></svg>
<svg class="ico" id="i6" style="left:556.7px;top:623.5px" viewBox="0 0 24 24"><path d="M2 12a2 2 0 1 1 4 0 2 2 0 0 1-4 0Zm16 0a2 2 0 1 1 4 0 2 2 0 0 1-4 0Zm-6-2a2 2 0 1 0 0 4 2 2 0 0 0 0-4Z"/></svg>
<div class="hr" style="top:661px;left:0;width:600px"></div>
</div>
</body>
</html>
